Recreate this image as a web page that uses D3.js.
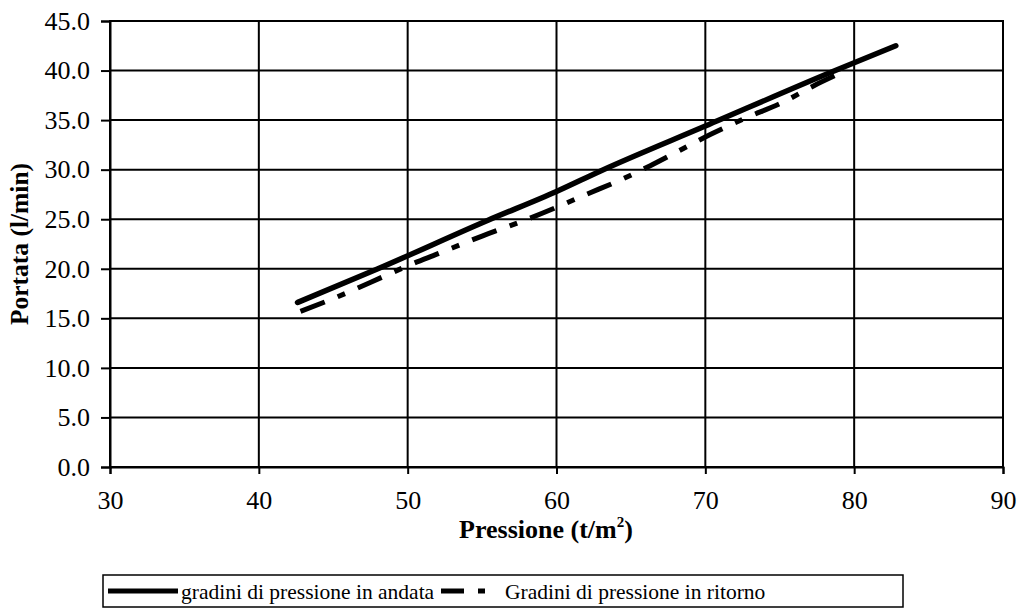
<!DOCTYPE html>
<html>
<head>
<meta charset="utf-8">
<script src="https://cdn.jsdelivr.net/npm/d3@7"></script>
<style>
html,body{margin:0;padding:0;background:#fff;}
svg{display:block;font-family:"Liberation Serif","Times New Roman",serif;}
</style>
</head>
<body>
<svg id="chart" width="1022" height="609"></svg>
<script>
const xTicks = [30, 40, 50, 60, 70, 80, 90];
const yTicks = [0, 5, 10, 15, 20, 25, 30, 35, 40, 45];

const andataX = [42.6, 48.0, 55.4, 60.0, 63.0, 70.0, 78.4, 82.8];
const andataY = [16.6, 20.0, 24.9, 27.8, 29.9, 34.4, 39.8, 42.5];

const ritornoX = [42.8, 45.0, 48.5, 50.0, 52.0, 55.0, 57.7, 60.0, 62.0, 64.2, 66.3, 68.1, 70.4, 72.7, 75.2, 77.2, 79.3];
const ritornoY = [15.7, 17.0, 19.3, 20.3, 21.5, 23.3, 24.8, 26.2, 27.5, 28.9, 30.4, 31.8, 33.6, 35.2, 36.8, 38.4, 39.9];

const seriesNames = ["gradini di pressione in andata", "Gradini di pressione in ritorno"];

const svg = d3.select("#chart");
const L = 110, R = 1003, T = 21, B = 467;
const x = d3.scaleLinear().domain([30, 90]).range([L, R]);
const y = d3.scaleLinear().domain([0, 45]).range([B, T]);
const FONT = '"Liberation Serif","Times New Roman",serif';

// grid
const g = svg.append("g");
g.selectAll("line.h").data(yTicks).enter().append("line")
  .attr("x1", L).attr("x2", R).attr("y1", d => y(d)).attr("y2", d => y(d))
  .attr("stroke", "#000").attr("stroke-width", 2);
g.selectAll("line.v").data(xTicks).enter().append("line")
  .attr("y1", T).attr("y2", B).attr("x1", d => x(d)).attr("x2", d => x(d))
  .attr("stroke", "#000").attr("stroke-width", 2);

// axes
const yAxis = d3.axisLeft(y).tickValues(yTicks).tickFormat(d3.format(".1f")).tickSize(9).tickPadding(11);
const ya = svg.append("g").attr("transform", `translate(${L},0)`).call(yAxis);
const xAxis = d3.axisBottom(x).tickValues(xTicks).tickFormat(d3.format("d")).tickSize(7);
const xa = svg.append("g").attr("transform", `translate(0,${B})`).call(xAxis);
[ya, xa].forEach(a => {
  a.attr("font-family", FONT).attr("font-size", 26);
  a.select(".domain").attr("stroke", "#000").attr("stroke-width", 2);
  a.selectAll(".tick line").attr("stroke", "#000").attr("stroke-width", 2);
  a.selectAll("text").attr("fill", "#000");
});
xa.selectAll(".tick text").attr("y", 42).attr("dy", 0);

// border
svg.append("rect").attr("x", L).attr("y", T).attr("width", R - L).attr("height", B - T)
  .attr("fill", "none").attr("stroke", "#000").attr("stroke-width", 2);

// lines
const line = d3.line().x(d => x(d[0])).y(d => y(d[1])).curve(d3.curveMonotoneX);
svg.append("path").datum(andataX.map((v, i) => [v, andataY[i]]))
  .attr("d", line).attr("fill", "none").attr("stroke", "#000").attr("stroke-width", 5.5)
  .attr("stroke-linecap", "round");
svg.append("path").datum(ritornoX.map((v, i) => [v, ritornoY[i]]))
  .attr("d", line).attr("fill", "none").attr("stroke", "#000").attr("stroke-width", 5)
  .attr("stroke-dasharray", "26,14,8,14");

// axis titles
svg.append("text").attr("transform", `translate(28,${(T + B) / 2}) rotate(-90)`)
  .attr("text-anchor", "middle").style("font-size", "25.5px").style("font-weight", "bold")
  .text("Portata (l/min)");
const xt = svg.append("text").attr("x", 546).attr("y", 538)
  .attr("text-anchor", "middle").style("font-size", "26px").style("font-weight", "bold");
xt.append("tspan").text("Pressione (t/m");
xt.append("tspan").attr("dy", -11).style("font-size", "15px").text("2");
xt.append("tspan").attr("dy", 11).text(")");

// legend
const lg = svg.append("g");
lg.append("rect").attr("x", 103).attr("y", 575).attr("width", 800).attr("height", 32)
  .attr("fill", "#fff").attr("stroke", "#000").attr("stroke-width", 1.5);
lg.append("line").attr("x1", 108).attr("x2", 178).attr("y1", 591).attr("y2", 591)
  .attr("stroke", "#000").attr("stroke-width", 5);
lg.append("text").attr("x", 181).attr("y", 599).style("font-size", "21.5px").text(seriesNames[0]);
lg.append("line").attr("x1", 441).attr("x2", 485).attr("y1", 591).attr("y2", 591)
  .attr("stroke", "#000").attr("stroke-width", 5).attr("stroke-dasharray", "23,14,7,100");
lg.append("text").attr("x", 505).attr("y", 599).style("font-size", "21.5px").text(seriesNames[1]);
</script>
</body>
</html>
